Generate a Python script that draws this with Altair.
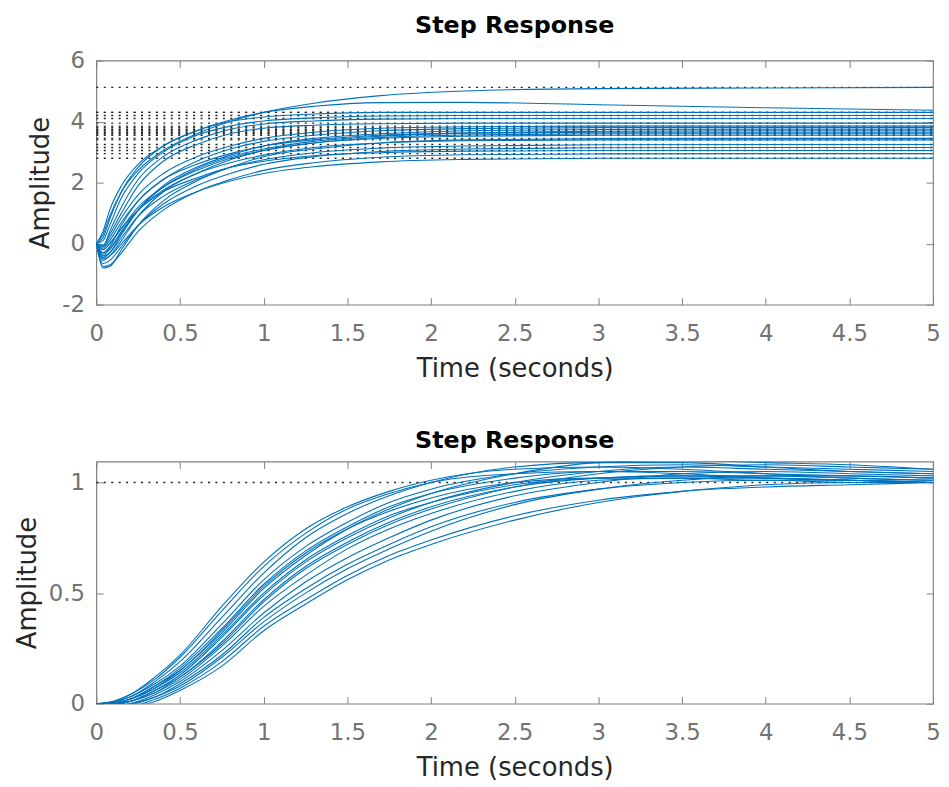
import altair as alt
import pandas as pd

# ---------------- data: top panel ----------------
top_t = [0, 0.04, 0.08, 0.15, 0.25, 0.4, 0.6, 0.8, 1.0, 1.3, 1.7, 2.2, 3.0, 4.0, 5.0]
top_curves = [
    [0, 0.3, 0.9, 1.7, 2.4, 3.05, 3.6, 4.0, 4.3, 4.6, 4.85, 5.0, 5.08, 5.1, 5.12],
    [0, 0.4, 1.1, 1.9, 2.6, 3.2, 3.7, 4.05, 4.3, 4.5, 4.62, 4.63, 4.55, 4.45, 4.37],
    [0, 0.2, 0.8, 1.7, 2.5, 3.2, 3.7, 4.0, 4.15, 4.25, 4.3, 4.3, 4.3, 4.3, 4.3],
    [0, 0.1, 0.6, 1.5, 2.3, 3.0, 3.55, 3.85, 4.02, 4.12, 4.18, 4.2, 4.2, 4.2, 4.2],
    [0, -0.1, 0.4, 1.2, 2.1, 2.85, 3.4, 3.75, 3.92, 4.02, 4.08, 4.1, 4.1, 4.1, 4.1],
    [0, -0.05, 0.3, 1.0, 1.9, 2.7, 3.25, 3.6, 3.78, 3.88, 3.93, 3.95, 3.95, 3.95, 3.95],
    [0, -0.1, 0.2, 0.85, 1.6, 2.3, 2.85, 3.2, 3.45, 3.65, 3.78, 3.83, 3.85, 3.85, 3.85],
    [0, -0.3, -0.1, 0.6, 1.4, 2.1, 2.7, 3.1, 3.35, 3.55, 3.7, 3.77, 3.8, 3.8, 3.8],
    [0, -0.45, -0.3, 0.3, 1.1, 1.9, 2.5, 2.9, 3.2, 3.45, 3.6, 3.7, 3.74, 3.75, 3.75],
    [0, -0.35, -0.2, 0.35, 1.1, 1.85, 2.45, 2.85, 3.1, 3.35, 3.52, 3.62, 3.68, 3.7, 3.7],
    [0, -0.15, 0.1, 0.7, 1.4, 2.1, 2.6, 2.95, 3.2, 3.4, 3.55, 3.62, 3.65, 3.65, 3.65],
    [0, -0.55, -0.4, 0.1, 0.9, 1.7, 2.3, 2.75, 3.05, 3.3, 3.48, 3.56, 3.6, 3.6, 3.6],
    [0, -0.2, 0.0, 0.5, 1.2, 1.85, 2.4, 2.8, 3.05, 3.3, 3.45, 3.52, 3.55, 3.55, 3.55],
    [0, -0.8, -0.75, -0.2, 0.6, 1.4, 2.05, 2.5, 2.85, 3.1, 3.3, 3.4, 3.44, 3.45, 3.45],
    [0, -0.3, -0.15, 0.4, 1.1, 1.75, 2.3, 2.65, 2.9, 3.15, 3.3, 3.37, 3.4, 3.4, 3.4],
    [0, -0.4, -0.3, 0.2, 0.9, 1.55, 2.1, 2.5, 2.75, 2.98, 3.13, 3.2, 3.24, 3.25, 3.25],
    [0, -0.65, -0.55, -0.1, 0.6, 1.3, 1.9, 2.3, 2.6, 2.85, 3.02, 3.1, 3.14, 3.15, 3.15],
    [0, -0.2, 0.0, 0.5, 1.1, 1.7, 2.15, 2.5, 2.7, 2.88, 2.98, 3.03, 3.05, 3.05, 3.05],
    [0, -0.75, -0.7, -0.3, 0.4, 1.1, 1.7, 2.1, 2.4, 2.65, 2.83, 2.91, 2.94, 2.95, 2.95],
    [0, -0.5, -0.4, 0.0, 0.6, 1.2, 1.7, 2.05, 2.3, 2.52, 2.68, 2.76, 2.8, 2.8, 2.8],
]
top_steady = [5.12, 4.3, 4.3, 4.2, 4.1, 3.95, 3.85, 3.8, 3.75, 3.7, 3.65, 3.6,
              3.55, 3.45, 3.4, 3.25, 3.15, 3.05, 2.95, 2.8]

# ---------------- data: bottom panel ----------------
bot_t = [0, 0.1, 0.2, 0.35, 0.5, 0.75, 1.0, 1.25, 1.5, 1.75, 2.0, 2.5, 3.0, 3.5, 4.0, 4.5, 5.0]
bot_curves = [
    [0, 0.01, 0.04, 0.12, 0.22, 0.44, 0.64, 0.79, 0.89, 0.96, 1.01, 1.06, 1.07, 1.06, 1.04, 1.02, 1.01],
    [0, 0.01, 0.04, 0.11, 0.21, 0.42, 0.62, 0.77, 0.88, 0.95, 1.0, 1.04, 1.05, 1.04, 1.02, 1.01, 1.0],
    [0, 0.01, 0.03, 0.10, 0.19, 0.39, 0.59, 0.75, 0.86, 0.94, 1.0, 1.07, 1.09, 1.09, 1.07, 1.05, 1.04],
    [0, 0.005, 0.03, 0.09, 0.17, 0.36, 0.56, 0.71, 0.82, 0.91, 0.97, 1.04, 1.07, 1.08, 1.07, 1.06, 1.05],
    [0, 0.005, 0.02, 0.08, 0.16, 0.34, 0.54, 0.69, 0.80, 0.89, 0.95, 1.02, 1.05, 1.05, 1.04, 1.03, 1.02],
    [0, 0.0, 0.02, 0.08, 0.15, 0.33, 0.53, 0.68, 0.79, 0.87, 0.93, 1.0, 1.02, 1.02, 1.01, 1.01, 1.0],
    [0, 0.0, 0.02, 0.07, 0.15, 0.32, 0.52, 0.67, 0.79, 0.88, 0.95, 1.04, 1.09, 1.10, 1.09, 1.08, 1.06],
    [0, 0.0, 0.02, 0.07, 0.14, 0.31, 0.50, 0.65, 0.76, 0.85, 0.91, 0.99, 1.02, 1.03, 1.02, 1.01, 1.0],
    [0, 0.0, 0.01, 0.06, 0.13, 0.30, 0.49, 0.64, 0.75, 0.84, 0.91, 1.0, 1.05, 1.07, 1.06, 1.05, 1.04],
    [0, -0.005, 0.01, 0.06, 0.12, 0.28, 0.47, 0.62, 0.73, 0.82, 0.89, 0.98, 1.02, 1.03, 1.03, 1.02, 1.01],
    [0, -0.005, 0.01, 0.05, 0.12, 0.27, 0.46, 0.61, 0.72, 0.81, 0.88, 0.98, 1.04, 1.07, 1.08, 1.07, 1.06],
    [0, -0.005, 0.01, 0.05, 0.11, 0.26, 0.44, 0.58, 0.70, 0.79, 0.86, 0.96, 1.01, 1.02, 1.02, 1.01, 1.0],
    [0, -0.01, 0.0, 0.04, 0.10, 0.24, 0.41, 0.55, 0.66, 0.75, 0.83, 0.94, 1.0, 1.04, 1.05, 1.04, 1.03],
    [0, -0.01, 0.0, 0.03, 0.09, 0.22, 0.39, 0.52, 0.63, 0.72, 0.80, 0.91, 0.97, 1.0, 1.01, 1.0, 1.0],
    [0, -0.01, -0.005, 0.03, 0.08, 0.21, 0.37, 0.50, 0.61, 0.70, 0.78, 0.90, 0.97, 1.01, 1.03, 1.03, 1.02],
    [0, -0.01, -0.01, 0.02, 0.07, 0.19, 0.35, 0.47, 0.58, 0.67, 0.74, 0.85, 0.92, 0.96, 0.99, 1.0, 1.0],
    [0, -0.01, -0.015, 0.01, 0.06, 0.17, 0.33, 0.45, 0.56, 0.65, 0.72, 0.83, 0.91, 0.96, 0.98, 0.99, 1.0],
]
bot_steady = [1.0]

x_ticks = [0, 0.5, 1, 1.5, 2, 2.5, 3, 3.5, 4, 4.5, 5]
top_y_ticks = [-2, 0, 2, 4, 6]
bot_y_ticks = [0, 0.5, 1]

LINE_COLOR = "#0072BD"
AXIS_COLOR = "#808080"
LABEL_COLOR = "#737373"
FONT = "DejaVu Sans"
W = 843


def curves_df(ts, curves):
    rows = []
    for i, c in enumerate(curves):
        for t, v in zip(ts, c):
            rows.append({"curve": i, "t": t, "v": v})
    return pd.DataFrame(rows)


def steady_df(vals):
    return pd.DataFrame({"x0": [0] * len(vals), "x1": [5] * len(vals), "y": vals})


def panel(ts, curves, steady, ydom, yticks, height, title_offset):
    xs = alt.Scale(domain=[0, 5], nice=False, zero=False)
    ys = alt.Scale(domain=ydom, nice=False, zero=False)
    ax_main_x = alt.Axis(orient="bottom", values=x_ticks, offset=-7, tickSize=7, domain=False,
                         grid=False, labelPadding=18, labelExpr="toString(datum.value)",
                         labelFont=FONT, labelFontSize=23, labelColor=LABEL_COLOR,
                         tickColor=AXIS_COLOR, labelFlush=False, labelOverlap=False,
                         title="Time (seconds)", titleFont=FONT, titleFontSize=26,
                         titleFontWeight="normal", titleColor="#262626", titlePadding=10)
    ax_main_y = alt.Axis(orient="left", values=yticks, offset=-7, tickSize=7, domain=False,
                         grid=False, labelPadding=12, labelExpr="toString(datum.value)",
                         labelFont=FONT, labelFontSize=23, labelColor=LABEL_COLOR,
                         tickColor=AXIS_COLOR, labelFlush=False, labelOverlap=False,
                         title="Amplitude", titleFont=FONT, titleFontSize=26,
                         titleFontWeight="normal", titleColor="#262626", titlePadding=8)
    ax_top = alt.Axis(orient="top", values=x_ticks, offset=-7, tickSize=7, domain=False,
                      grid=False, labels=False, tickColor=AXIS_COLOR, title=None)
    ax_right = alt.Axis(orient="right", values=yticks, offset=-7, tickSize=7, domain=False,
                        grid=False, labels=False, tickColor=AXIS_COLOR, title=None)

    lines = alt.Chart(curves_df(ts, curves)).mark_line(
        color=LINE_COLOR, strokeWidth=1.1, interpolate="monotone", clip=True
    ).encode(
        x=alt.X("t:Q", scale=xs, axis=ax_main_x),
        y=alt.Y("v:Q", scale=ys, axis=ax_main_y),
        detail="curve:N",
    )
    rules = alt.Chart(steady_df(steady)).mark_rule(
        color="#222222", strokeDash=[2, 5.5], strokeWidth=1.4
    ).encode(
        x=alt.X("x0:Q", scale=xs, axis=ax_top),
        x2="x1:Q",
        y=alt.Y("y:Q", scale=ys, axis=ax_right),
    )
    return alt.layer(rules, lines).resolve_axis(x="independent", y="independent").properties(
        width=W, height=height,
        title=alt.TitleParams("Step Response", font=FONT, fontSize=24, fontWeight="bold",
                              color="#000000", anchor="middle", offset=title_offset),
    )


top = panel(top_t, top_curves, top_steady, [-2, 6], top_y_ticks, 246, 12)
bottom = panel(bot_t, bot_curves, bot_steady, [0, 1.095], bot_y_ticks, 244, 8)

chart = alt.vconcat(top, bottom, spacing=46).properties(
    padding={"left": 5, "top": 2, "right": 0, "bottom": 0},
    background="white",
).configure_view(stroke=AXIS_COLOR, strokeWidth=1.2)

chart.save("out.html", embed_options={"renderer": "svg", "actions": False})
